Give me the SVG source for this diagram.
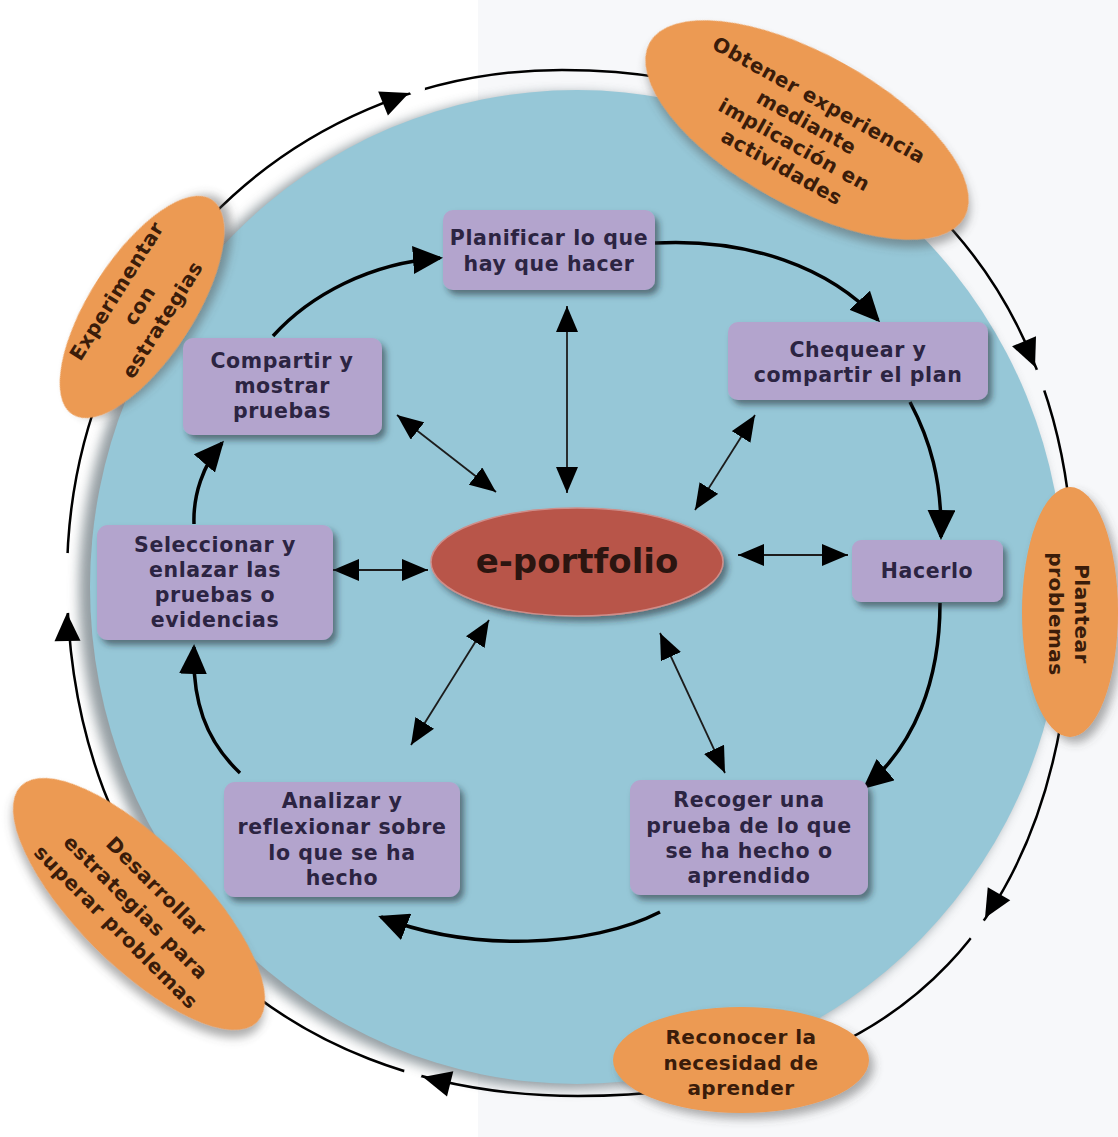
<svg xmlns="http://www.w3.org/2000/svg" width="1118" height="1137" viewBox="0 0 1118 1137">
  <defs>
    <style>
      .box { fill: #b3a4cd; filter: url(#sh); }
      .btxt { font-family: "DejaVu Sans", Verdana, sans-serif; font-weight: bold; font-size: 20.5px; fill: #2c2442; text-anchor: middle; letter-spacing: 0.6px; }
      .oval { fill: #ec9a52; filter: url(#sh2); }
      .otxt { font-family: "DejaVu Sans", Verdana, sans-serif; font-weight: bold; font-size: 20px; fill: #3a1c0a; text-anchor: middle; letter-spacing: 0.5px; }
      .cyc { fill: none; stroke: #000; stroke-width: 3.5; marker-end: url(#big); }
      .bi { fill: none; stroke: #1c1c1c; stroke-width: 1.8; marker-start: url(#sm); marker-end: url(#sm); }
      .ring { fill: none; stroke: #000; stroke-width: 2.5; }
    </style>
    <filter id="sh" x="-20%" y="-20%" width="150%" height="160%">
      <feDropShadow dx="4" dy="5" stdDeviation="3" flood-color="#1f2a33" flood-opacity="0.55"/>
    </filter>
    <filter id="sh2" x="-20%" y="-20%" width="150%" height="150%">
      <feDropShadow dx="5" dy="6" stdDeviation="5" flood-color="#4a4a4a" flood-opacity="0.45"/>
    </filter>
    <filter id="halo" x="-10%" y="-10%" width="120%" height="120%">
      <feGaussianBlur stdDeviation="6"/>
    </filter>
    <marker id="big" viewBox="0 0 30 28" refX="27" refY="14" markerWidth="30" markerHeight="28" markerUnits="userSpaceOnUse" orient="auto">
      <path d="M0,0 L30,14 L0,28 Z" fill="#000"/>
    </marker>
    <marker id="sm" viewBox="0 0 26 22" refX="26" refY="11" markerWidth="26" markerHeight="22" markerUnits="userSpaceOnUse" orient="auto-start-reverse">
      <path d="M0,0 L26,11 L0,22 Z" fill="#000"/>
    </marker>
    <path id="rh" d="M0,0 L-28,-13 L-28,13 Z" fill="#000"/>
    <mask id="gaps" maskUnits="userSpaceOnUse" x="0" y="0" width="1118" height="1137">
      <rect width="1118" height="1137" fill="#fff"/>
      <circle cx="417" cy="89" r="8" fill="#000"/>
      <circle cx="1041" cy="380" r="11" fill="#000"/>
      <circle cx="978" cy="930" r="11" fill="#000"/>
      <circle cx="413" cy="1073" r="9" fill="#000"/>
      <circle cx="67" cy="583" r="30" fill="#000"/>
    </mask>
  </defs>

  <!-- background -->
  <rect width="1118" height="1137" fill="#ffffff"/>
  <rect x="478" y="0" width="640" height="1137" fill="#f7f8fa"/>

  <!-- blue disc with soft grey halo -->
  <ellipse cx="569" cy="591" rx="490" ry="498" fill="#7a868c" opacity="0.8" filter="url(#halo)"/>
  <ellipse cx="577" cy="587" rx="487" ry="497" fill="#96c7d7"/>

  <!-- outer cycle ring -->
  <g id="outer-ring">
    <path class="ring" mask="url(#gaps)" d="M67,578 C67,293.5 284.8,70 562,70 C868.6,70 1073,272 1073,575 C1073,918.9 904.7,1096 578,1096 C271.4,1096 67,888.8 67,578 Z"/>
    <use href="#rh" transform="translate(409,93) rotate(-22)"/>
    <use href="#rh" transform="translate(1035,367) rotate(67)"/>
    <use href="#rh" transform="translate(985,918) rotate(120)"/>
    <use href="#rh" transform="translate(423,1077) rotate(194)"/>
    <use href="#rh" transform="translate(67,613) rotate(-91)"/>
  </g>

  <!-- connectors -->
  <g id="connectors">
    <path class="cyc" d="M273,336 C310,295 370,263 440,258"/>
    <path class="cyc" d="M655,243 C750,238 830,268 878,320"/>
    <path class="cyc" d="M910,402 C930,440 942,480 941,537"/>
    <path class="cyc" d="M940,603 C940,680 915,745 865,787"/>
    <path class="cyc" d="M660,912 C590,948 470,952 381,917"/>
    <path class="cyc" d="M240,773 C205,740 192,700 194,647"/>
    <path class="cyc" d="M194,524 C193,495 203,465 222,443"/>

    <path class="bi" d="M567,306 L567,493"/>
    <path class="bi" d="M755,415 L695,510"/>
    <path class="bi" d="M738,555 L848,555"/>
    <path class="bi" d="M660,633 L725,773"/>
    <path class="bi" d="M489,620 L411,745"/>
    <path class="bi" d="M333,570 L428,570"/>
    <path class="bi" d="M397,415 L496,492"/>
  </g>

  <!-- outer stage ovals -->
  <g id="obtener">
    <ellipse class="oval" cx="807" cy="130" rx="180" ry="76" transform="rotate(29 807 130)"/>
    <g transform="translate(807,130) rotate(29)">
      <text class="otxt" x="-4" y="-25">Obtener experiencia</text>
      <text class="otxt" x="-4" y="0.5">mediante</text>
      <text class="otxt" x="-4" y="26">implicación en</text>
      <text class="otxt" x="-4" y="51.5">actividades</text>
    </g>
  </g>

  <g id="experimentar">
    <ellipse class="oval" cx="142" cy="307" rx="128" ry="52" transform="rotate(-57 142 307)"/>
    <g transform="translate(142,307) rotate(-58)">
      <text class="otxt" x="0" y="-23">Experimentar</text>
      <text class="otxt" x="0" y="4">con</text>
      <text class="otxt" x="0" y="31">estrategias</text>
    </g>
  </g>

  <g id="plantear">
    <ellipse class="oval" cx="1070" cy="612" rx="48" ry="125"/>
    <g transform="translate(1062,614) rotate(90)">
      <text class="otxt" x="0" y="-13">Plantear</text>
      <text class="otxt" x="0" y="13">problemas</text>
    </g>
  </g>

  <g id="desarrollar">
    <ellipse class="oval" cx="139" cy="904" rx="167" ry="62" transform="rotate(45 139 904)"/>
    <g transform="translate(139,904) rotate(45)">
      <text class="otxt" x="0" y="-17.5">Desarrollar</text>
      <text class="otxt" x="0" y="11.5">estrategias para</text>
      <text class="otxt" x="0" y="39.5">superar problemas</text>
    </g>
  </g>

  <g id="reconocer">
    <ellipse class="oval" cx="741" cy="1060" rx="128" ry="53"/>
    <text class="otxt" x="741" y="1044">Reconocer la</text>
    <text class="otxt" x="741" y="1070">necesidad de</text>
    <text class="otxt" x="741" y="1095">aprender</text>
  </g>

  <!-- centre -->
  <g id="eportfolio">
    <ellipse cx="577" cy="562" rx="146" ry="54" fill="#b8544a" stroke="#cf8e89" stroke-width="1.5" filter="url(#sh)"/>
    <text x="577" y="573" font-family="DejaVu Sans, Verdana, sans-serif" font-weight="bold" font-size="34" fill="#2b1510" text-anchor="middle">e-portfolio</text>
  </g>

  <!-- inner cycle steps -->
  <g id="planificar">
    <rect class="box" x="443" y="210" width="212" height="80" rx="10"/>
    <text class="btxt" x="549" y="245">Planificar lo que</text>
    <text class="btxt" x="549" y="271">hay que hacer</text>
  </g>

  <g id="chequear">
    <rect class="box" x="728" y="322" width="260" height="78" rx="10"/>
    <text class="btxt" x="858" y="357">Chequear y</text>
    <text class="btxt" x="858" y="382">compartir el plan</text>
  </g>

  <g id="hacerlo">
    <rect class="box" x="852" y="540" width="151" height="62" rx="9"/>
    <text class="btxt" x="927" y="578">Hacerlo</text>
  </g>

  <g id="recoger">
    <rect class="box" x="630" y="780" width="238" height="115" rx="11"/>
    <text class="btxt" x="749" y="807">Recoger una</text>
    <text class="btxt" x="749" y="832.5">prueba de lo que</text>
    <text class="btxt" x="749" y="858">se ha hecho o</text>
    <text class="btxt" x="749" y="883">aprendido</text>
  </g>

  <g id="analizar">
    <rect class="box" x="224" y="782" width="236" height="115" rx="11"/>
    <text class="btxt" x="342" y="808">Analizar y</text>
    <text class="btxt" x="342" y="834">reflexionar sobre</text>
    <text class="btxt" x="342" y="860">lo que se ha</text>
    <text class="btxt" x="342" y="885">hecho</text>
  </g>

  <g id="seleccionar">
    <rect class="box" x="97" y="525" width="236" height="115" rx="11"/>
    <text class="btxt" x="215" y="552">Seleccionar y</text>
    <text class="btxt" x="215" y="577">enlazar las</text>
    <text class="btxt" x="215" y="602">pruebas o</text>
    <text class="btxt" x="215" y="627">evidencias</text>
  </g>

  <g id="compartir">
    <rect class="box" x="183" y="338" width="199" height="97" rx="10"/>
    <text class="btxt" x="282" y="368">Compartir y</text>
    <text class="btxt" x="282" y="393">mostrar</text>
    <text class="btxt" x="282" y="418">pruebas</text>
  </g>
</svg>
